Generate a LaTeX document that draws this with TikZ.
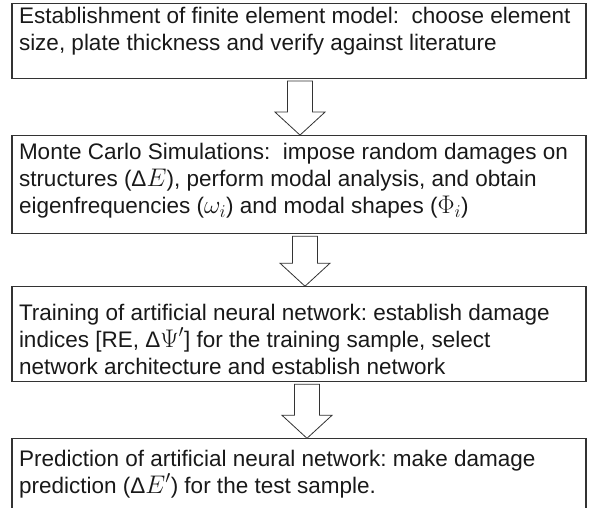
\RequirePackage{fix-cm}
\documentclass[tikz,border=0pt]{standalone}
\usepackage{fontspec}
\setmainfont{Liberation Sans}
\DeclareMathSizes{22.5}{25.5}{18}{14}
\usetikzlibrary{positioning,calc}

\tikzset{
  stepbox/.style={draw=black!80, line width=1.1pt, inner xsep=7pt, inner ysep=0pt,
    anchor=north, text=black!90, font=\fontsize{22.5}{27}\selectfont},
  arrowline/.style={draw=black!80, line width=0.8pt, fill=white, line join=miter},
}
% box text: height, top gap, text
\newcommand{\steptext}[3]{\parbox[t][#1][t]{560pt}{\raggedright\frenchspacing\vspace*{#2}#3}}
% hollow block arrow between two boxes, shifted by #3
\newcommand{\flowarrow}[3]{%
  \draw[arrowline] let \p1=($(#1.south)+(#3,0)$), \p2=(#2.north) in
    (\x1-12.5pt,\y1-2pt) -- (\x1-12.5pt,\y2+23pt) -- (\x1-25pt,\y2+23pt)
    -- (\x1,\y2) -- (\x1+25pt,\y2+23pt) -- (\x1+12.5pt,\y2+23pt)
    -- (\x1+12.5pt,\y1-2pt) -- cycle;
}

\begin{document}
\begin{tikzpicture}
    \useasboundingbox (0,0) rectangle (594pt,-508pt);
    \clip (0,0) rectangle (594pt,-508pt);

    \node[stepbox] (model) at (299pt,-3pt)
        {\steptext{75pt}{4pt}{Establishment of finite element model:\ \ choose element\\
        size, plate thickness and verify against literature}};
    \node[stepbox, below=56pt of model] (monte)
        {\steptext{98pt}{8pt}{Monte Carlo Simulations:\ \ impose random damages on\\
        structures (Δ$E$), perform modal analysis, and obtain\\
        eigenfrequencies ($\omega_i$) and modal shapes ($\Phi_i$)}};
    \node[stepbox, below=52pt of monte] (train)
        {\steptext{95pt}{17pt}{Training of artificial neural network: establish damage\\
        indices [RE, Δ$\Psi'$] for the training sample, select\\
        network architecture and establish network}};
    \node[stepbox, below=56pt of train] (predict)
        {\steptext{90pt}{11pt}{Prediction of artificial neural network: make damage\\
        prediction (Δ$E'$) for the test sample.}};

    \flowarrow{model}{monte}{1pt}
    \flowarrow{monte}{train}{6pt}
    \flowarrow{train}{predict}{8pt}
\end{tikzpicture}
\end{document}
